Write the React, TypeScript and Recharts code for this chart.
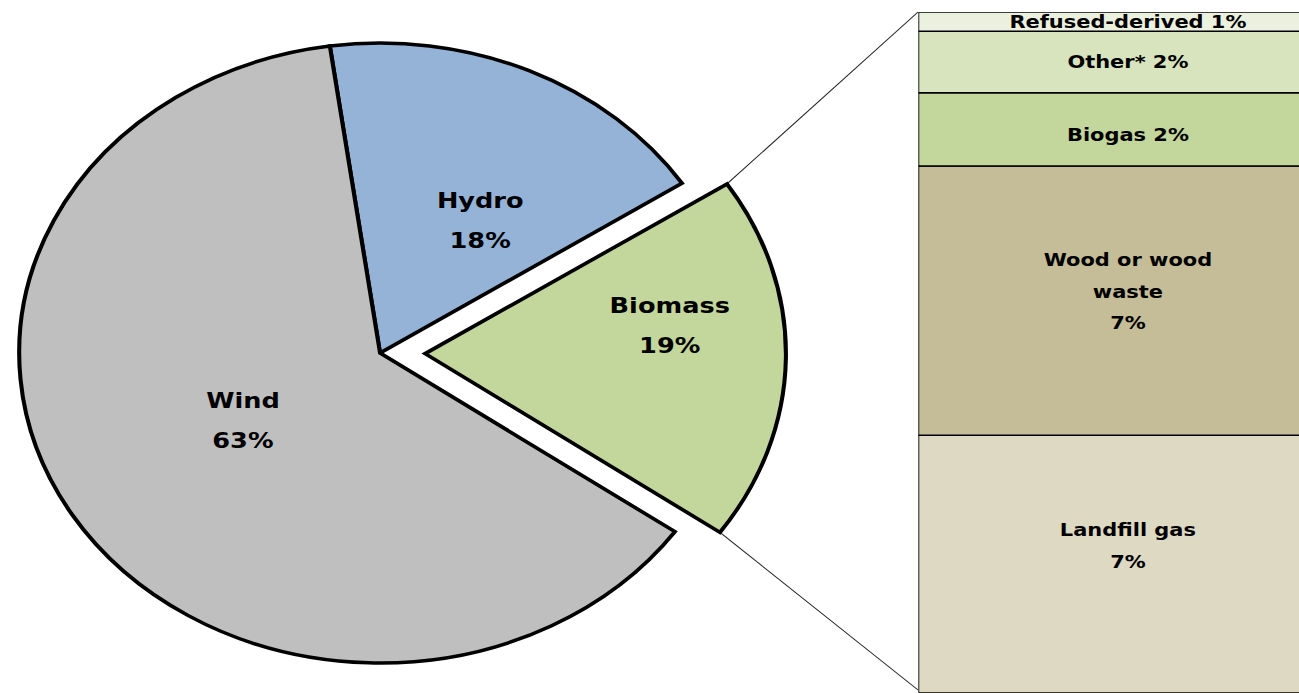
import React from 'react'
import { PieChart, Pie, Cell, BarChart, Bar, XAxis, YAxis, LabelList } from 'recharts'

// renewable mix (pie)
const pieNames = ['Hydro', 'Biomass', 'Wind']
const pieValues = [18, 19, 63]
const pieColors = ['#95B3D7', '#C3D69B', '#BFBFBF']

// biomass breakdown (stacked bar, bottom to top)
const bioNames = ['Landfill gas', 'Wood or wood waste', 'Biogas', 'Other*', 'Refused-derived']
const bioValues = [6.7, 7.0, 1.9, 1.6, 0.5]
const bioLabels = ['7%', '7%', '2%', '2%', '1%']
const bioColors = ['#DDD9C3', '#C4BD97', '#C3D69B', '#D7E4BD', '#EBF1DE']

// layout (unscaled space, the whole picture is stretched by SX)
const SX = 1.164
const CX = 326.5
const CY = 353
const R = 310
const START = 98
const EXPLODE = 38.7
const BAR_X = 788.7
const BAR_TOP = 12
const BAR_W = 360
const BAR_H = 681
const FONT = '"DejaVu Sans", Verdana, sans-serif'

const labelSpot: Record<string, { r: number; a: number }> = {
  Hydro: { r: 158, a: 57 },
  Biomass: { r: 212, a: 7.5 },
  Wind: { r: 136, a: 210 },
}
const barShift: Record<string, number> = { 'Landfill gas': -18, 'Wood or wood waste': -9, Biogas: 6 }

const pieData = pieNames.map((name, i) => ({ name, value: pieValues[i] }))
const pieTotal = pieValues.reduce((a, b) => a + b, 0)
const bioIdx = pieNames.indexOf('Biomass')
const before = pieValues.slice(0, bioIdx).reduce((a, b) => a + b, 0)
const bioStart = START - (before / pieTotal) * 360
const bioEnd = bioStart - (pieValues[bioIdx] / pieTotal) * 360
const bioMid = (bioStart + bioEnd) / 2
const rad = (d: number) => (d * Math.PI) / 180
const ecx = CX + EXPLODE * Math.cos(rad(bioMid))
const ecy = CY - EXPLODE * Math.sin(rad(bioMid))

const barRow: any = { name: 'Biomass' }
bioNames.forEach((n, i) => (barRow[n] = bioValues[i]))
const barData = [barRow]
const bioTotal = bioValues.reduce((a, b) => a + b, 0)

const pieLabel = (only: (n: string) => boolean) => (p: any) => {
  if (!only(p.name)) return null
  const s = labelSpot[p.name]
  const x = p.cx + s.r * Math.cos(rad(s.a))
  const y = p.cy - s.r * Math.sin(rad(s.a))
  return (
    <g>
      <text x={x} y={y - 20} textAnchor="middle" dominantBaseline="central" fontFamily={FONT} fontWeight="bold" fontSize={22} fill="#000">{p.name}</text>
      <text x={x} y={y + 20} textAnchor="middle" dominantBaseline="central" fontFamily={FONT} fontWeight="bold" fontSize={22} fill="#000">{p.value}%</text>
    </g>
  )
}

const barLabel = (i: number) => (p: any) => {
  const { x, y, width, height } = p
  const name = bioNames[i]
  const cx = x + width / 2
  const cy = y + height / 2 + (barShift[name] || 0)
  let lines: string[]
  if (height > 150) {
    const words = name.split(' ')
    const wrapped: string[] = []
    let cur = ''
    words.forEach(w => {
      if (cur && (cur + ' ' + w).length > 13) { wrapped.push(cur); cur = w } else cur = cur ? cur + ' ' + w : w
    })
    wrapped.push(cur)
    lines = [...wrapped, bioLabels[i]]
  } else {
    lines = [`${name} ${bioLabels[i]}`]
  }
  const lh = 31.5
  const y0 = cy - ((lines.length - 1) * lh) / 2
  return (
    <g>
      {lines.map((l, k) => (
        <text key={k} x={cx} y={y0 + k * lh} textAnchor="middle" dominantBaseline="central" fontFamily={FONT} fontWeight="bold" fontSize={18} fill="#000" style={{ whiteSpace: 'pre' }}>{l}</text>
      ))}
    </g>
  )
}

export default function App() {
  const p1 = { x: ecx + R * Math.cos(rad(bioStart)), y: ecy - R * Math.sin(rad(bioStart)) }
  const p2 = { x: ecx + R * Math.cos(rad(bioEnd)), y: ecy - R * Math.sin(rad(bioEnd)) }
  return (
    <div style={{ position: 'absolute', left: 0, top: 0, width: 1299, height: 693, overflow: 'hidden', background: '#fff' }}>
      <div style={{ position: 'absolute', left: 0, top: 0, width: 1299 / SX, height: 693, transform: `scaleX(${SX})`, transformOrigin: '0 0' }}>
        <svg width={1299 / SX} height={693} style={{ position: 'absolute', left: 0, top: 0 }}>
          <line x1={p1.x} y1={p1.y} x2={BAR_X} y2={BAR_TOP} stroke="#222" strokeWidth={1} />
          <line x1={p2.x} y1={p2.y} x2={BAR_X} y2={BAR_TOP + BAR_H - 3} stroke="#222" strokeWidth={1} />
        </svg>
        <div style={{ position: 'absolute', left: 0, top: 0 }}>
          <PieChart width={760} height={693} margin={{ top: 0, right: 0, bottom: 0, left: 0 }}>
            <Pie data={pieData} dataKey="value" nameKey="name" cx={CX} cy={CY} outerRadius={R} startAngle={START} endAngle={START - 360}
              isAnimationActive={false} labelLine={false} label={pieLabel(n => n !== 'Biomass')}>
              {pieData.map((d, i) => (
                <Cell key={i} fill={d.name === 'Biomass' ? 'none' : pieColors[i]} stroke={d.name === 'Biomass' ? 'none' : '#000'} strokeWidth={3.5} />
              ))}
            </Pie>
            <Pie data={pieData} dataKey="value" nameKey="name" cx={ecx} cy={ecy} outerRadius={R} startAngle={START} endAngle={START - 360}
              isAnimationActive={false} labelLine={false} label={pieLabel(n => n === 'Biomass')}>
              {pieData.map((d, i) => (
                <Cell key={i} fill={d.name === 'Biomass' ? pieColors[i] : 'none'} stroke={d.name === 'Biomass' ? '#000' : 'none'} strokeWidth={3.5} />
              ))}
            </Pie>
          </PieChart>
        </div>
        <div style={{ position: 'absolute', left: BAR_X, top: BAR_TOP }}>
          <BarChart width={BAR_W} height={BAR_H} data={barData} margin={{ top: 0, right: 0, bottom: 0, left: 0 }} barCategoryGap={0}>
            <XAxis dataKey="name" hide />
            <YAxis hide domain={[0, bioTotal]} />
            {bioNames.map((n, i) => (
              <Bar key={n} dataKey={n} stackId="b" fill={bioColors[i]} stroke="#000" strokeWidth={1.5} isAnimationActive={false}>
                <LabelList dataKey={n} content={barLabel(i)} />
              </Bar>
            ))}
          </BarChart>
        </div>
      </div>
    </div>
  )
}
